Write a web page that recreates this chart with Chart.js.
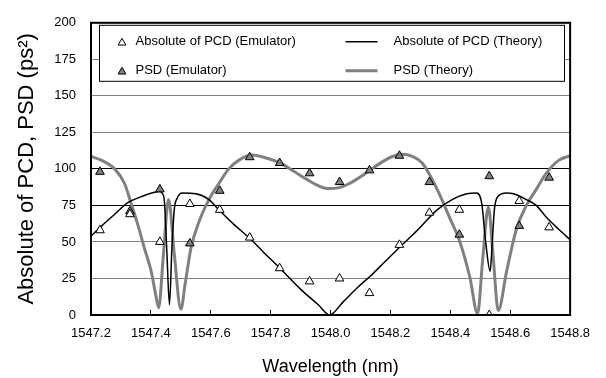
<!DOCTYPE html>
<html><head><meta charset="utf-8">
<script src="https://cdn.jsdelivr.net/npm/chart.js@4/dist/chart.umd.min.js"></script>
<style>html,body{margin:0;padding:0;background:#fff}#wrap{width:606px;height:378px}</style>
</head><body><div id="wrap"><canvas id="c" width="606" height="378"></canvas></div>
<script>
// ---- data ----
const seriesLabels = ['Absolute of PCD (Emulator)', 'PSD (Emulator)', 'Absolute of PCD (Theory)', 'PSD (Theory)'];
const emuWavelength = [1547.23, 1547.33, 1547.43, 1547.53, 1547.63, 1547.73, 1547.83, 1547.93,
                       1548.03, 1548.13, 1548.23, 1548.33, 1548.43, 1548.53, 1548.63, 1548.73];
const pcdEmulator = [58, 69, 50, 76, 72, 53, 32, 23, 25, 15, 48, 70, 72, 0, 78, 60];
const psdEmulator = [98, 71, 86, 49, 85, 108, 104, 97, 91, 99, 109, 91, 55, 95, 61, 94];

const pcdTheoryWavelength = [1547.200, 1547.233, 1547.279, 1547.323, 1547.362, 1547.395, 1547.429, 1547.439,
  1547.445, 1547.453, 1547.462, 1547.470, 1547.478, 1547.488, 1547.505, 1547.550, 1547.594, 1547.627,
  1547.677, 1547.730, 1547.776, 1547.826, 1547.903, 1547.959, 1547.997, 1548.042, 1548.091, 1548.135,
  1548.184, 1548.234, 1548.290, 1548.356, 1548.406, 1548.455, 1548.488, 1548.505, 1548.518, 1548.533,
  1548.540, 1548.547, 1548.558, 1548.588, 1548.611, 1548.654, 1548.687, 1548.720, 1548.760, 1548.800];
const pcdTheory = [54, 60.5, 69, 77, 80.5, 83, 84.5, 83,
  78, 45, 7, 45, 72, 80, 83.5, 83, 79, 72,
  62, 52.5, 43, 33, 17, 7, 0, 9, 19, 27,
  37, 47, 58, 72, 79, 83, 83.5, 76, 50, 30,
  50, 72, 81, 83.5, 83, 79, 75, 67, 59, 51.5];

const psdTheoryWavelength = [1547.200, 1547.234, 1547.279, 1547.312, 1547.333, 1547.356, 1547.378, 1547.402,
  1547.415, 1547.426, 1547.442, 1547.459, 1547.478, 1547.500, 1547.515, 1547.534, 1547.561, 1547.594,
  1547.627, 1547.660, 1547.694, 1547.737, 1547.776, 1547.833, 1547.876, 1547.919, 1547.959, 1547.992,
  1548.025, 1548.058, 1548.084, 1548.131, 1548.174, 1548.207, 1548.240, 1548.273, 1548.306, 1548.356,
  1548.399, 1548.432, 1548.465, 1548.491, 1548.508, 1548.527, 1548.543, 1548.560, 1548.588, 1548.621,
  1548.654, 1548.687, 1548.720, 1548.763, 1548.800];
const psdTheory = [108.5, 106, 100, 90, 77, 62, 46, 29,
  15, 5, 42, 79, 42, 4, 22, 46, 64, 79,
  90, 100, 106, 109.5, 108, 104, 98.5, 93, 88.5, 86.5,
  87, 89.5, 92.5, 99, 105, 108.5, 110, 108.5, 104, 86,
  66, 50, 26, 1, 38, 74, 40, 3, 30, 59,
  75, 86, 97, 106, 109];

const xTickValues = [1547.2, 1547.4, 1547.6, 1547.8, 1548.0, 1548.2, 1548.4, 1548.6, 1548.8];
const yTickValues = [0, 25, 50, 75, 100, 125, 150, 175, 200];
const xTitle = 'Wavelength (nm)';
const yTitle = 'Absolute of PCD, PSD (ps\u00B2)';

// ---- build ----
const pts = (xs, ys) => xs.map((x, i) => ({x, y: ys[i]}));
const GRAY = '#808080';
const FONT = "'Liberation Sans', Arial, sans-serif";

function tri(ctx, x, y, r, fill) {
  ctx.beginPath();
  for (let k = 0; k < 3; k++) {
    const a = k * 2 * Math.PI / 3;
    const px = x + Math.sin(a) * r, py = y - Math.cos(a) * r;
    k ? ctx.lineTo(px, py) : ctx.moveTo(px, py);
  }
  ctx.closePath();
  ctx.fillStyle = fill; ctx.fill();
  ctx.strokeStyle = '#000'; ctx.lineWidth = 1; ctx.stroke();
}

const frameLegend = {
  id: 'frameLegend',
  afterDatasetsDraw(chart) {
    const {ctx, chartArea: a} = chart;
    ctx.save();
    const bx = a.left + 8.5, by = a.top + 2.5, bw = 465, bh = 56;
    ctx.fillStyle = '#fff'; ctx.fillRect(bx, by, bw, bh);
    ctx.strokeStyle = '#000'; ctx.lineWidth = 1; ctx.strokeRect(bx, by, bw, bh);
    const ds = chart.data.datasets;
    const r1 = by + 16.5, r2 = by + 45.5;
    const mx = bx + 22.5, tx1 = bx + 36, lx1 = bx + 246, lx2 = bx + 278, tx2 = bx + 294;
    ctx.font = '13px ' + FONT; ctx.textBaseline = 'middle'; ctx.textAlign = 'left'; ctx.fillStyle = '#000';
    tri(ctx, mx, r1 + 1, 4.5, ds[0].backgroundColor);
    ctx.fillStyle = '#000'; ctx.fillText(ds[0].label, tx1, r1);
    tri(ctx, mx, r2 + 1, 4.5, ds[1].backgroundColor);
    ctx.fillStyle = '#000'; ctx.fillText(ds[1].label, tx1, r2);
    ctx.beginPath(); ctx.moveTo(lx1, r1); ctx.lineTo(lx2, r1);
    ctx.strokeStyle = ds[2].borderColor; ctx.lineWidth = ds[2].borderWidth; ctx.stroke();
    ctx.fillStyle = '#000'; ctx.fillText(ds[2].label, tx2, r1);
    ctx.beginPath(); ctx.moveTo(lx1, r2); ctx.lineTo(lx2, r2);
    ctx.strokeStyle = ds[3].borderColor; ctx.lineWidth = ds[3].borderWidth; ctx.stroke();
    ctx.fillStyle = '#000'; ctx.fillText(ds[3].label, tx2, r2);
    // plot frame
    ctx.strokeStyle = '#000'; ctx.lineWidth = 2;
    ctx.strokeRect(a.left, a.top, a.right - a.left, a.bottom - a.top);
    ctx.restore();
  }
};

new Chart(document.getElementById('c'), {
  type: 'scatter',
  data: {
    datasets: [
      { label: seriesLabels[0], data: pts(emuWavelength, pcdEmulator), showLine: false,
        pointStyle: 'triangle', pointRadius: 5, backgroundColor: '#ffffff', borderColor: '#000', borderWidth: 1 },
      { label: seriesLabels[1], data: pts(emuWavelength, psdEmulator), showLine: false,
        pointStyle: 'triangle', pointRadius: 5, backgroundColor: GRAY, borderColor: '#000', borderWidth: 1 },
      { label: seriesLabels[2], data: pts(pcdTheoryWavelength, pcdTheory), showLine: true, pointRadius: 0,
        borderColor: '#000', borderWidth: 1.5, cubicInterpolationMode: 'monotone', fill: false },
      { label: seriesLabels[3], data: pts(psdTheoryWavelength, psdTheory), showLine: true, pointRadius: 0,
        borderColor: GRAY, borderWidth: 3, cubicInterpolationMode: 'monotone', fill: false }
    ]
  },
  options: {
    responsive: false, animation: false, devicePixelRatio: 1,
    layout: { padding: { left: 0, top: 14, right: 32, bottom: 0 } },
    plugins: { legend: { display: false }, tooltip: { enabled: false } },
    scales: {
      x: {
        type: 'linear', min: 1547.2, max: 1548.8,
        afterBuildTicks: s => { s.ticks = xTickValues.map(v => ({value: v})); },
        afterFit: s => { s.height = 63; },
        ticks: { callback: v => Number(v).toFixed(1), font: { family: FONT, size: 13 }, color: '#000', padding: 16, maxRotation: 0, autoSkip: false },
        grid: { drawOnChartArea: false, drawTicks: true, tickLength: -5, color: '#000', lineWidth: 1 },
        border: { display: false },
        title: { display: true, text: xTitle, font: { family: FONT, size: 18 }, color: '#000', padding: { top: 0, bottom: 0 } }
      },
      y: {
        min: 0, max: 200,
        afterBuildTicks: s => { s.ticks = yTickValues.map(v => ({value: v})); },
        afterFit: s => { s.width = 91; },
        ticks: { font: { family: FONT, size: 13 }, color: '#000', padding: 15 },
        grid: { drawTicks: false, lineWidth: 1,
          color: c => (c.tick && (c.tick.value === 75 || c.tick.value === 100)) ? '#000' : GRAY },
        border: { display: false },
        title: { display: true, text: yTitle, font: { family: FONT, size: 22 }, color: '#000', padding: { top: 14, bottom: 0 } }
      }
    }
  },
  plugins: [frameLegend]
});
</script></body></html>
